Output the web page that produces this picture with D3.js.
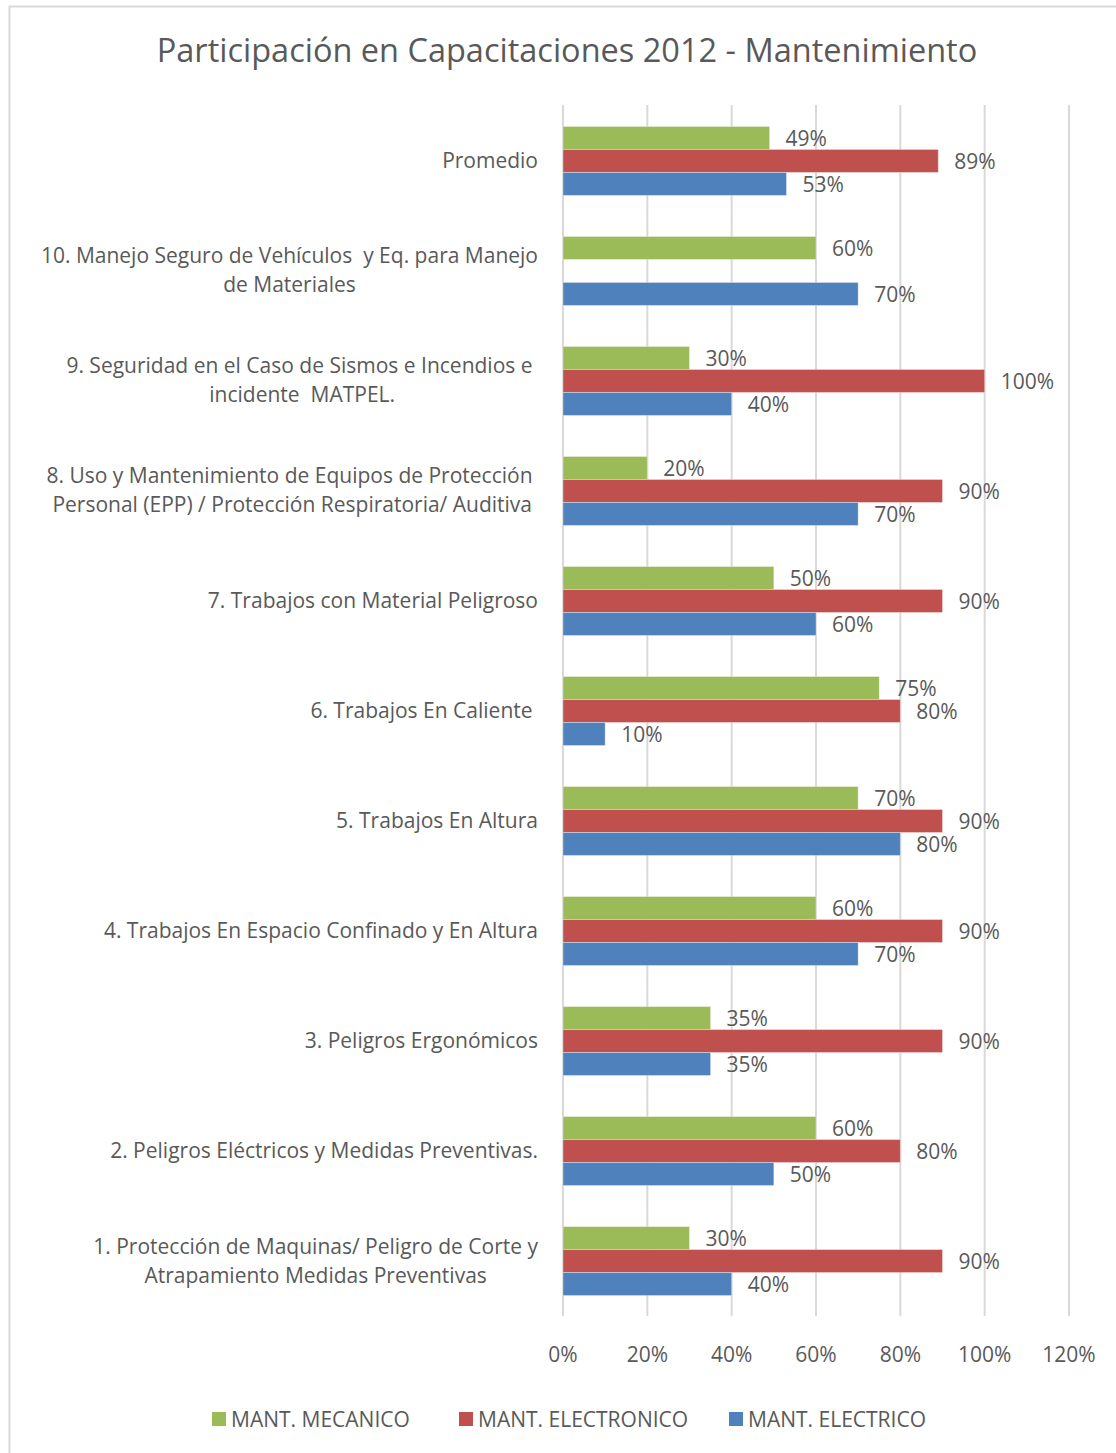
<!DOCTYPE html>
<html>
<head>
<meta charset="utf-8">
<script src="https://cdn.jsdelivr.net/npm/d3@7"></script>
<style>
  html, body { margin: 0; padding: 0; background: #fff; }
  svg { display: block; }
  text { font-family: "Open Sans", "Noto Sans", sans-serif; fill: #595959; white-space: pre; }
</style>
</head>
<body>
<svg id="chart" width="1116" height="1453"></svg>
<script>
// Categories, top to bottom ("\n" marks a line break in the label)
const categories = [
  "Promedio",
  "10. Manejo Seguro de Vehículos  y Eq. para Manejo\nde Materiales",
  "9. Seguridad en el Caso de Sismos e Incendios e \nincidente  MATPEL.",
  "8. Uso y Mantenimiento de Equipos de Protección \nPersonal (EPP) / Protección Respiratoria/ Auditiva",
  "7. Trabajos con Material Peligroso",
  "6. Trabajos En Caliente ",
  "5. Trabajos En Altura",
  "4. Trabajos En Espacio Confinado y En Altura",
  "3. Peligros Ergonómicos",
  "2. Peligros Eléctricos y Medidas Preventivas.",
  "1. Protección de Maquinas/ Peligro de Corte y\nAtrapamiento Medidas Preventivas"
];

const seriesNames = ["MANT. MECANICO", "MANT. ELECTRONICO", "MANT. ELECTRICO"];
const seriesColors = ["#9BBB59", "#C0504D", "#4F81BD"];

// Participation per category (null = no bar)
const mecanico    = [0.49, 0.60, 0.30, 0.20, 0.50, 0.75, 0.70, 0.60, 0.35, 0.60, 0.30];
const electronico = [0.89, null, 1.00, 0.90, 0.90, 0.80, 0.90, 0.90, 0.90, 0.80, 0.90];
const electrico   = [0.53, 0.70, 0.40, 0.70, 0.60, 0.10, 0.80, 0.70, 0.35, 0.50, 0.40];

const xTicks = [0, 0.2, 0.4, 0.6, 0.8, 1.0, 1.2];

const seriesValues = [mecanico, electronico, electrico];

const svg = d3.select("#chart");

// chart frame
svg.append("rect")
  .attr("x", 9.5).attr("y", 6.5)
  .attr("width", 1200).attr("height", 1500)
  .attr("fill", "none").attr("stroke", "#d9d9d9").attr("stroke-width", 2);

// title
svg.append("text")
  .attr("x", 567).attr("y", 62)
  .attr("text-anchor", "middle")
  .style("font-size", "32.5px")
  .text("Participación en Capacitaciones 2012 - Mantenimiento");

const plotTop = 106, plotBottom = 1316;

const x = d3.scaleLinear().domain([0, 1.2]).range([563, 1069]);

const y = d3.scaleBand()
  .domain(categories)
  .range([plotTop, plotBottom])
  .paddingInner(0.373)
  .paddingOuter(0.186);

const ySub = d3.scaleBand()
  .domain(seriesNames)
  .range([0, y.bandwidth()]);

// vertical gridlines
svg.append("g")
  .selectAll("line")
  .data(xTicks)
  .join("line")
  .attr("x1", d => x(d)).attr("x2", d => x(d))
  .attr("y1", plotTop - 1).attr("y2", plotBottom)
  .attr("stroke", "#d9d9d9").attr("stroke-width", 2);

// x axis tick labels
svg.append("g")
  .selectAll("text")
  .data(xTicks)
  .join("text")
  .attr("x", d => x(d)).attr("y", 1362)
  .attr("text-anchor", "middle")
  .style("font-size", "21px")
  .text(d => d3.format(".0%")(d));

// bars + value labels
const rows = [];
categories.forEach((c, i) => {
  seriesNames.forEach((s, j) => {
    const v = seriesValues[j][i];
    if (v !== null) rows.push({ cat: c, series: s, color: seriesColors[j], value: v });
  });
});

svg.append("g")
  .selectAll("rect")
  .data(rows)
  .join("rect")
  .attr("x", x(0))
  .attr("y", d => y(d.cat) + ySub(d.series))
  .attr("width", d => x(d.value) - x(0))
  .attr("height", ySub.bandwidth())
  .attr("fill", d => d.color)
  .attr("stroke", "rgba(255,255,255,0.35)")
  .attr("stroke-width", 1);

svg.append("g")
  .selectAll("text")
  .data(rows)
  .join("text")
  .attr("x", d => x(d.value) + 16)
  .attr("y", d => y(d.cat) + ySub(d.series) + ySub.bandwidth() / 2 + 8)
  .style("font-size", "21px")
  .text(d => d3.format(".0%")(d.value));

// category labels: block right-aligned, lines centered within the block
const labelRight = 538;
const labelG = svg.append("g");
categories.forEach(c => {
  const lines = c.split("\n");
  const cy = y(c) + y.bandwidth() / 2;
  const t = labelG.append("text").style("font-size", "21px");
  const lineH = 29;
  lines.forEach((ln, k) => {
    t.append("tspan").attr("y", cy + 7 + (k - (lines.length - 1) / 2) * lineH).text(ln);
  });
  // measure widest line, then center each line inside the block
  const spans = t.selectAll("tspan").nodes();
  const widths = spans.map(s => s.getComputedTextLength());
  const w = d3.max(widths);
  const cx = labelRight - w / 2;
  spans.forEach(s => d3.select(s).attr("x", cx).attr("text-anchor", "middle"));
});

// legend
const legendX = [212, 459, 729];
const legend = svg.append("g");
seriesNames.forEach((s, j) => {
  legend.append("rect")
    .attr("x", legendX[j]).attr("y", 1412)
    .attr("width", 14).attr("height", 14)
    .attr("fill", seriesColors[j]);
  legend.append("text")
    .attr("x", legendX[j] + 19).attr("y", 1427)
    .style("font-size", "21px")
    .text(s);
});
</script>
</body>
</html>
